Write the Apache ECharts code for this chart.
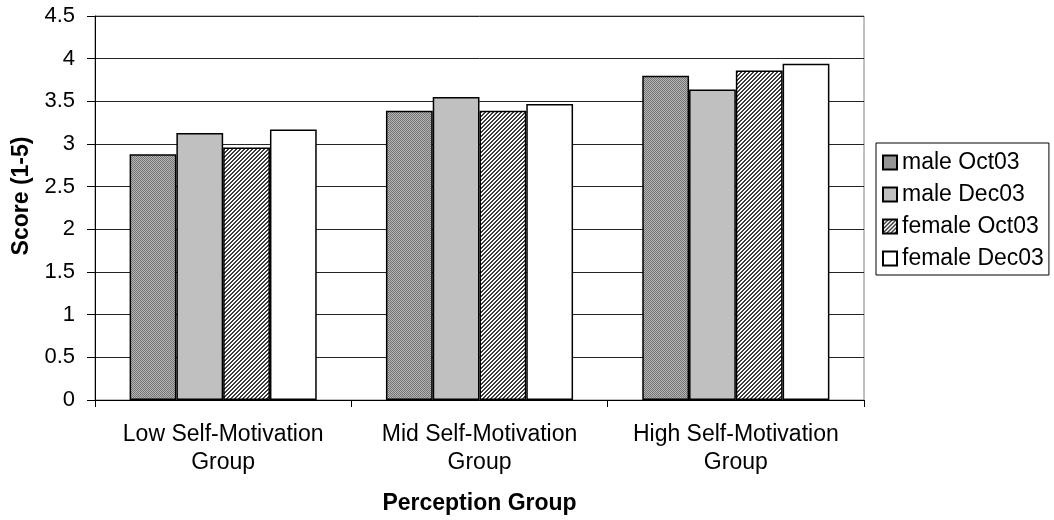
<!DOCTYPE html>
<html>
<head>
<meta charset="utf-8">
<script src="https://cdn.jsdelivr.net/npm/echarts@6/dist/echarts.min.js"></script>
<style>
html,body{margin:0;padding:0;background:#fff;}
#chart{width:1054px;height:520px;}
</style>
</head>
<body>
<div id="chart"></div>
<script>
var categories = ['Low Self-Motivation\nGroup', 'Mid Self-Motivation\nGroup', 'High Self-Motivation\nGroup'];
var seriesNames = ['male Oct03', 'male Dec03', 'female Oct03', 'female Dec03'];
var maleOct03 = [2.88, 3.39, 3.80];
var maleDec03 = [3.13, 3.55, 3.64];
var femaleOct03 = [2.96, 3.39, 3.86];
var femaleDec03 = [3.17, 3.47, 3.94];
var yTicks = [0, 0.5, 1, 1.5, 2, 2.5, 3, 3.5, 4, 4.5];

function makePattern(fn) {
  var c = document.createElement('canvas');
  c.width = 4; c.height = 4;
  var ctx = c.getContext('2d');
  for (var y = 0; y < 4; y++) {
    for (var x = 0; x < 4; x++) {
      ctx.fillStyle = fn(x, y);
      ctx.fillRect(x, y, 1, 1);
    }
  }
  return { image: c, repeat: 'repeat' };
}
var checker = makePattern(function (x, y) { return ((x + y) % 2 === 0) ? '#767676' : '#b4b4b4'; });
var hatch = makePattern(function (x, y) { return (((x + y) % 4) < 2) ? '#3c3c3c' : '#ffffff'; });

var FONT = '"Liberation Sans", Arial, Helvetica, sans-serif';
var fills = [checker, '#c0c0c0', hatch, '#ffffff'];
var datas = [maleOct03, maleDec03, femaleOct03, femaleDec03];

var series = seriesNames.map(function (n, i) {
  return {
    name: n,
    type: 'bar',
    data: datas[i],
    barGap: '0%',
    barCategoryGap: '27%',
    itemStyle: { color: fills[i], borderColor: '#000', borderWidth: 1.5 },
    emphasis: { disabled: true },
    animation: false
  };
});

var chart = echarts.init(document.getElementById('chart'), null, { renderer: 'canvas' });
chart.setOption({
  backgroundColor: '#fff',
  animation: false,
  textStyle: { fontFamily: FONT },
  grid: {
    left: 95, right: 190, top: 16, bottom: 120,
    show: true, borderColor: '#808080', borderWidth: 1, backgroundColor: 'transparent',
    containLabel: false, outerBoundsMode: 'none'
  },
  legend: {
    orient: 'vertical',
    left: 876, top: 143,
    padding: [8, 5, 5, 6],
    itemGap: 9,
    itemWidth: 14, itemHeight: 14,
    icon: 'rect',
    borderColor: '#000', borderWidth: 1,
    backgroundColor: '#fff',
    selectedMode: false,
    textStyle: { fontFamily: FONT, fontSize: 23, color: '#000', lineHeight: 23 },
    data: seriesNames
  },
  xAxis: {
    type: 'category',
    data: categories,
    name: 'Perception Group',
    nameLocation: 'middle',
    nameGap: 92,
    nameTextStyle: { fontFamily: FONT, fontSize: 23, fontWeight: 'bold', color: '#000', lineHeight: 23 },
    axisLine: { lineStyle: { color: '#000', width: 1 } },
    axisTick: { show: true, length: 7, lineStyle: { color: '#000' } },
    axisLabel: { interval: 0, margin: 21, fontFamily: FONT, fontSize: 23, lineHeight: 28, color: '#000' },
    splitLine: { show: false }
  },
  yAxis: {
    type: 'value',
    min: yTicks[0], max: yTicks[yTicks.length - 1], interval: 0.5,
    name: 'Score (1-5)',
    nameLocation: 'middle',
    nameGap: 62,
    nameRotate: 90,
    nameTextStyle: { fontFamily: FONT, fontSize: 23, fontWeight: 'bold', color: '#000', padding: [0, 0, 0, 24] },
    axisLine: { show: true, lineStyle: { color: '#000', width: 1 } },
    axisTick: { show: true, length: 8, lineStyle: { color: '#000' } },
    axisLabel: { margin: 20, fontFamily: FONT, fontSize: 22, color: '#000' },
    splitLine: { show: true, lineStyle: { color: '#222', width: 1 } }
  },
  series: series
});
</script>
</body>
</html>
